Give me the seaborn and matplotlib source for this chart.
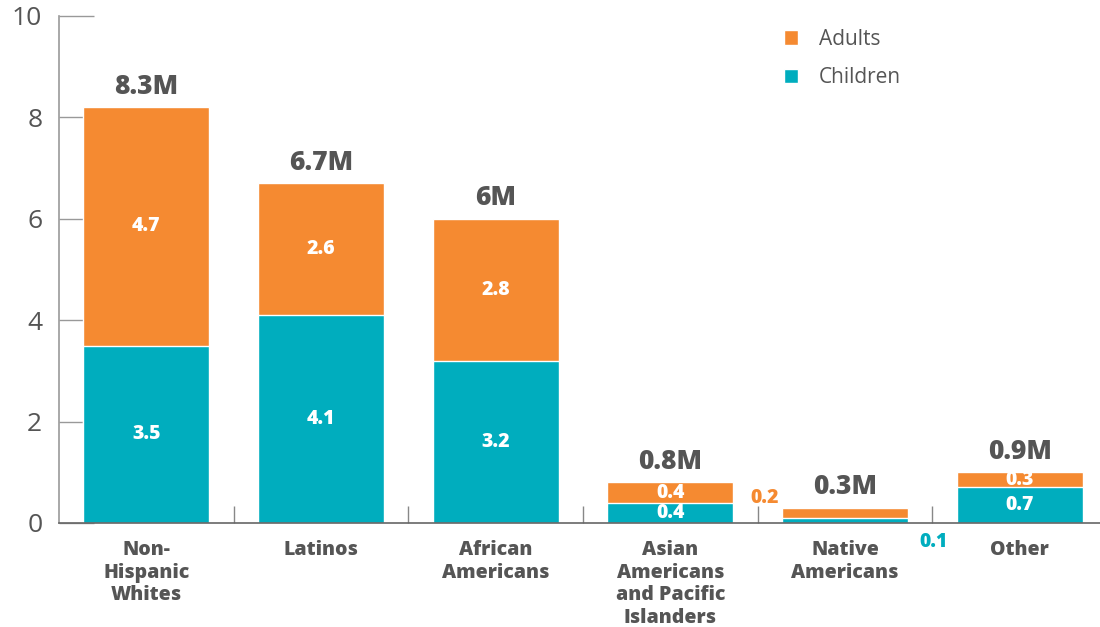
import pandas as pd
import numpy as np
import seaborn as sns
import matplotlib.pyplot as plt

# values in millions
groups = ['Non-\nHispanic\nWhites', 'Latinos', 'African\nAmericans',
          'Asian\nAmericans\nand Pacific\nIslanders', 'Native\nAmericans', 'Other']
children = [3.5, 4.1, 3.2, 0.4, 0.1, 0.7]
adults = [4.7, 2.6, 2.8, 0.4, 0.2, 0.3]
total_labels = ['8.3M', '6.7M', '6M', '0.8M', '0.3M', '0.9M']
adult_labels = ['4.7', '2.6', '2.8', '0.4', '', '0.3']
child_labels = ['3.5', '4.1', '3.2', '0.4', '', '0.7']

teal = '#00ADBE'
orange = '#F58A31'
gray = '#555555'

sns.set_style('white')
plt.rcParams['font.family'] = ['Open Sans', 'DejaVu Sans']

df = pd.DataFrame({'group': groups, 'children': children, 'adults': adults})
df['total'] = df['children'] + df['adults']

fig = plt.figure(figsize=(11, 6.27), dpi=100)
ax = fig.add_axes([0.0536, 0.1659, 0.9464, 0.8086])

sns.barplot(data=df, x='group', y='total', color=orange, width=0.72, saturation=1, ax=ax, label='Adults')
sns.barplot(data=df, x='group', y='children', color=teal, width=0.72, saturation=1, ax=ax, label='Children')

ax.set_xlim(-0.5, 5.46)
ax.set_ylim(0, 10)
ax.set_xlabel('')
ax.set_ylabel('')

# labels
for i in range(len(groups)):
    ax.text(i, df['total'][i] + 0.15, total_labels[i], ha='center', va='bottom',
            fontsize=19, fontweight='heavy', color=gray)
    if adult_labels[i]:
        ax.text(i, children[i] + adults[i] / 2, adult_labels[i], ha='center', va='center',
                fontsize=14, fontweight='heavy', color='white')
    if child_labels[i]:
        ax.text(i, children[i] / 2, child_labels[i], ha='center', va='center',
                fontsize=14, fontweight='heavy', color='white')

# small values written outside the Native Americans bar
ax.text(3.54, 0.5, '0.2', ha='center', va='center', fontsize=14, fontweight='heavy', color=orange)
ax.text(4.51, -0.38, '0.1', ha='center', va='center', fontsize=14,
        fontweight='heavy', color=teal, clip_on=False)

# spines and ticks
for s in ['top', 'right']:
    ax.spines[s].set_visible(False)
ax.spines['left'].set_color('#999999')
ax.spines['bottom'].set_color('#666666')
ax.spines['left'].set_linewidth(1.2)
ax.spines['bottom'].set_linewidth(1.2)

ax.set_yticks([0, 2, 4, 6, 8, 10])
ax.tick_params(axis='y', left=True, direction='in', length=25, width=1, color='#999999',
               labelsize=19, labelcolor=gray, pad=12)

ax.set_xticks(range(len(groups)))
ax.set_xticklabels(groups, fontsize=14, fontweight='heavy', color=gray, linespacing=1.17)
ax.tick_params(axis='x', which='major', bottom=False, pad=9)
ax.set_xticks(np.arange(0.5, 5, 1), minor=True)
ax.tick_params(axis='x', which='minor', bottom=True, direction='in', length=12, width=1, color='#888888')

ax.legend(loc='upper left', bbox_to_anchor=(0.678, 1.012), frameon=False, fontsize=15,
          handlelength=0.7, handleheight=0.7, handletextpad=1.0, labelspacing=0.85,
          labelcolor=gray)

plt.savefig('out.png', dpi=100)
